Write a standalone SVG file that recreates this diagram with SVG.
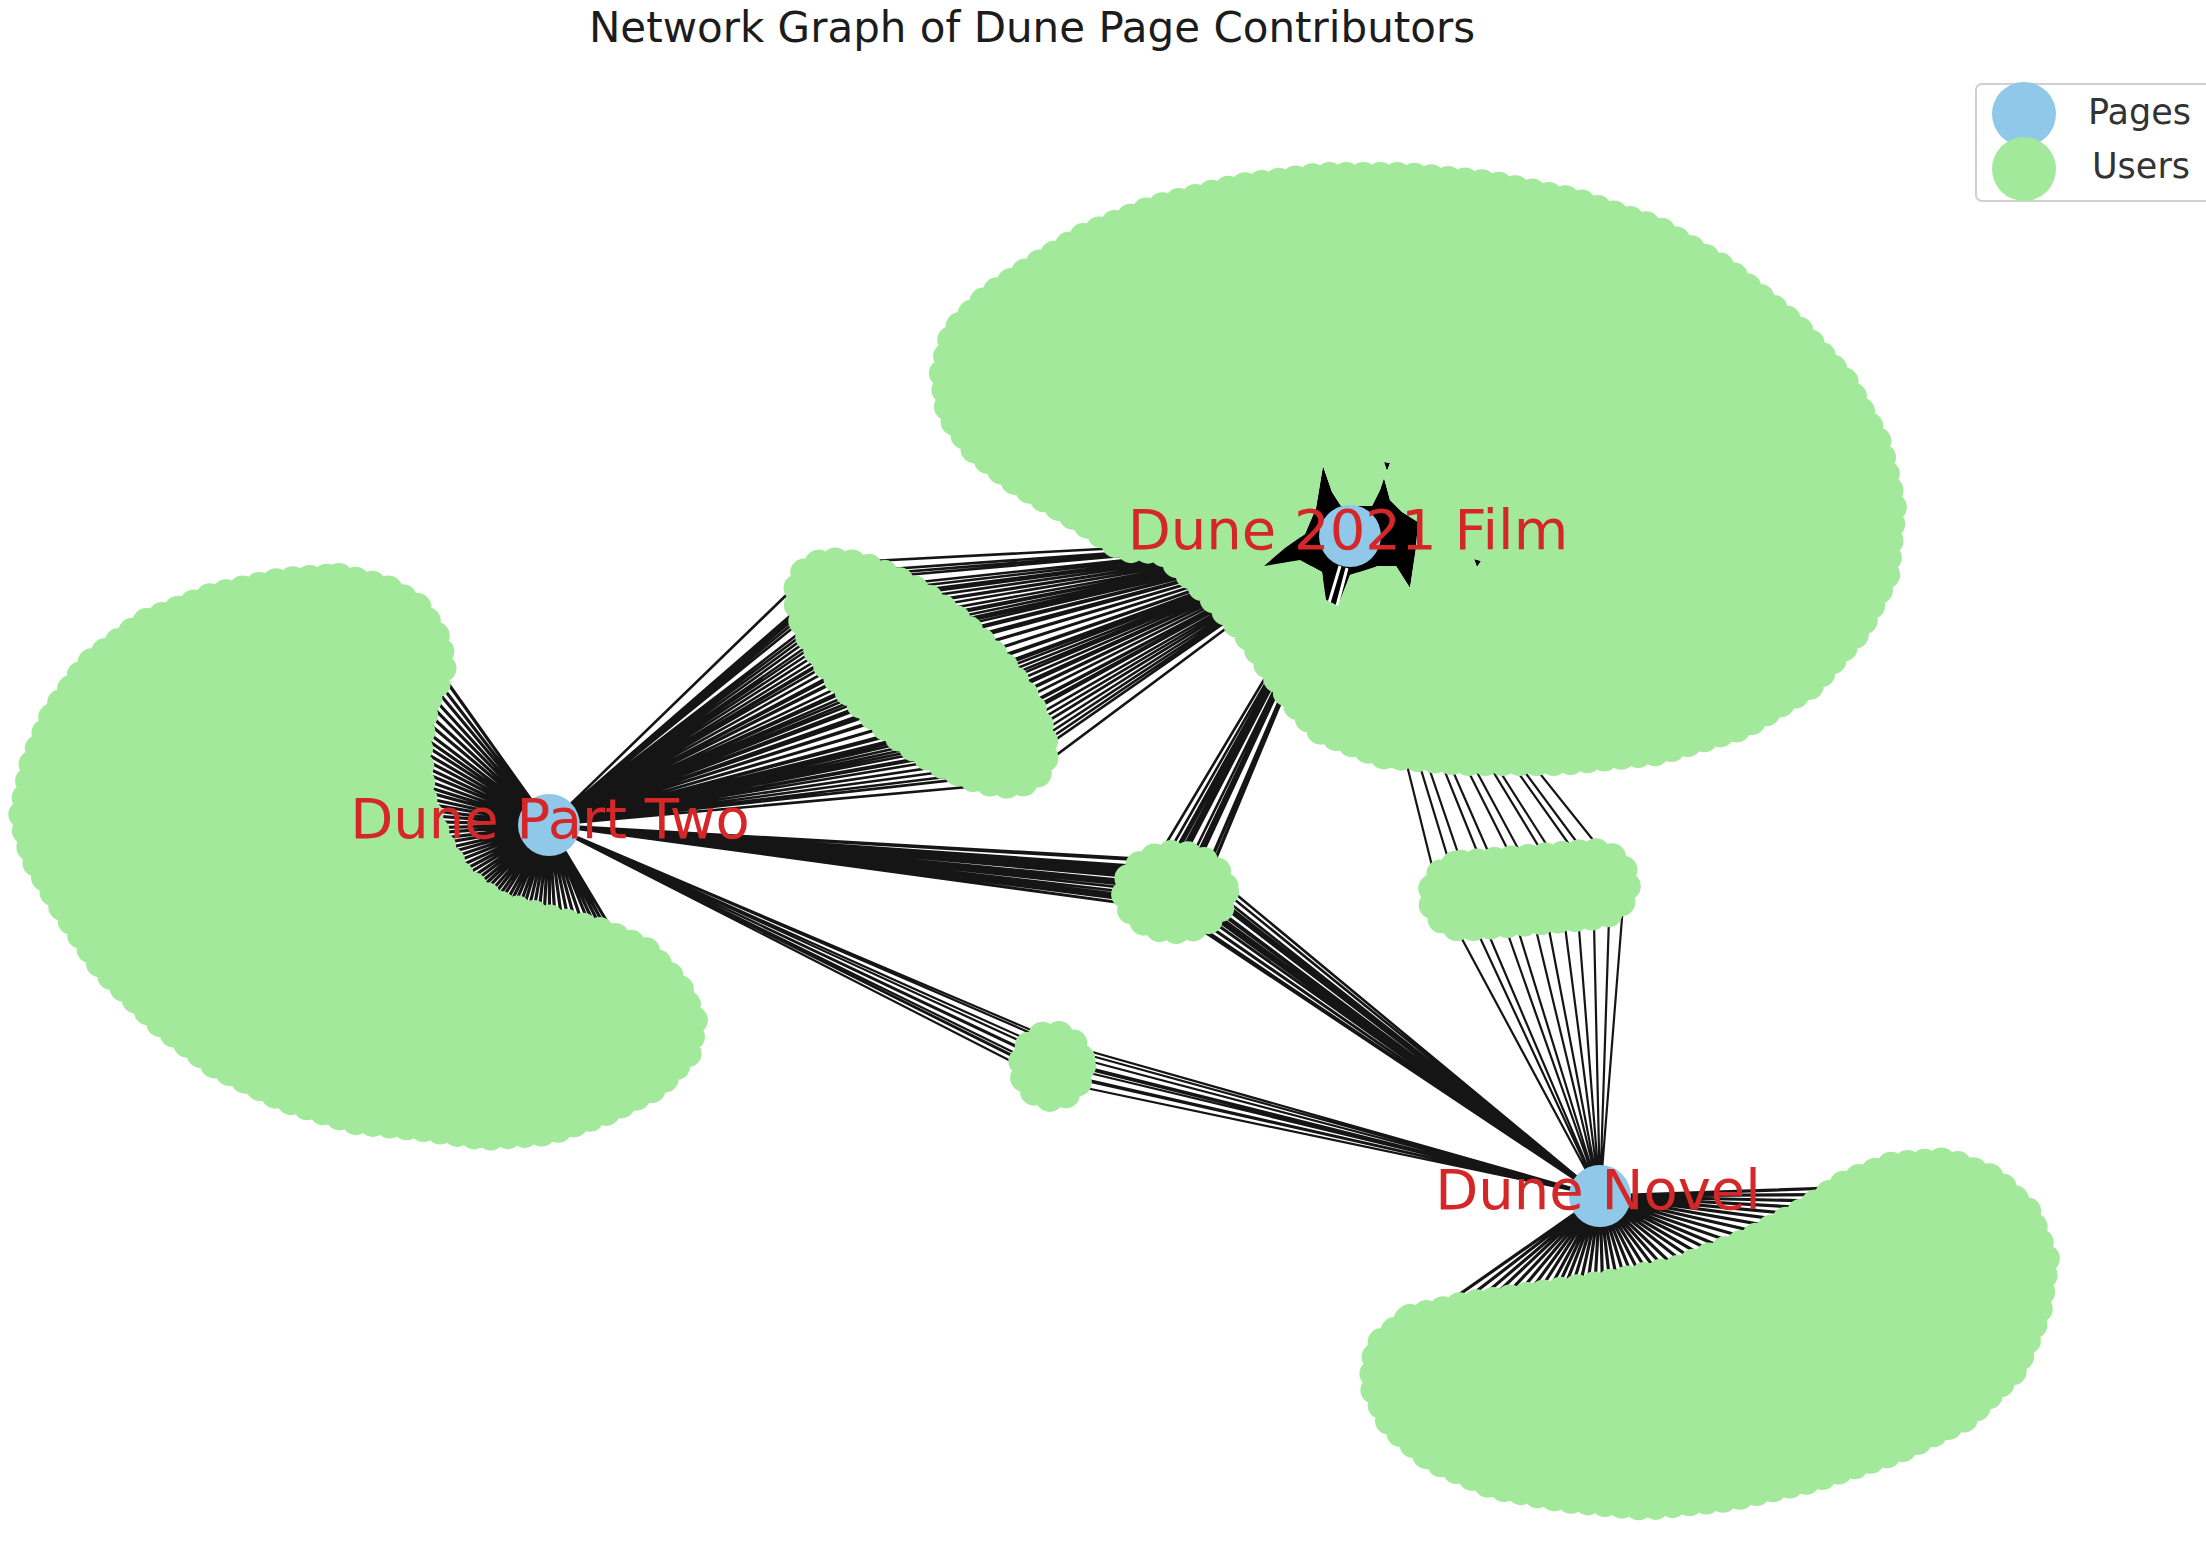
<svg xmlns="http://www.w3.org/2000/svg" width="2206" height="1554" viewBox="0 0 2206 1554">
<style>
.e{fill:none;stroke:#151515;stroke-width:2.2;stroke-linecap:round}
.fan{stroke-width:3.2}
.band{stroke-width:2.6}
.user{fill:#a3e99b;stroke:#a3e99b;stroke-width:28;stroke-linecap:round;stroke-linejoin:round;stroke-dasharray:0 17}
.page{fill:#8fc8e8}
.lbl{font-family:"DejaVu Sans","Liberation Sans",sans-serif;font-size:56px;fill:#d62728;text-anchor:middle}
.title{font-family:"DejaVu Sans","Liberation Sans",sans-serif;font-size:42px;fill:#1c1c1c;text-anchor:middle}
.lg{font-family:"DejaVu Sans","Liberation Sans",sans-serif;font-size:35px;fill:#333}
</style>
<defs>
<path id="starShape" d="M1323,466 L1332,492 L1341,506 L1372,506 L1380,490 L1384,478 L1390,500 L1402,512 L1418,522 L1416,548 L1410,588 L1396,566 L1378,566 L1350,575 L1338,606 L1326,600 L1322,572 L1300,560 L1264,566 L1285,548 L1305,534 L1316,508 Z M1384,462 l6,1 l-3,8 Z M1474,559 l7,2 l-4,6 Z"/>
<mask id="filmHole" maskUnits="userSpaceOnUse" x="0" y="0" width="2206" height="1554">
<rect x="0" y="0" width="2206" height="1554" fill="#fff"/>
<use href="#starShape" fill="#000"/>
</mask>
</defs>
<rect width="2206" height="1554" fill="#fff"/>
<text class="title" x="1032" y="42">Network Graph of Dune Page Contributors</text>

<g id="edges">
<path id="e-parttwo-fan" class="e fan" d="M549 825L410 630M549 825L406 640M549 825L403 650M549 825L399 660M549 825L396 670M549 825L392 680M549 825L389 690M549 825L385 700M549 825L383 709M549 825L381 717M549 825L379 726M549 825L376 734M549 825L374 743M549 825L372 751M549 825L370 760M549 825L370 769M549 825L371 777M549 825L371 786M549 825L371 794M549 825L371 803M549 825L372 811M549 825L372 820M549 825L374 829M549 825L376 837M549 825L378 846M549 825L379 854M549 825L381 863M549 825L383 871M549 825L385 880M549 825L389 888M549 825L393 897M549 825L398 905M549 825L402 913M549 825L406 922M549 825L410 930M549 825L417 936M549 825L423 942M549 825L430 947M549 825L437 953M549 825L443 959M549 825L450 965M549 825L458 968M549 825L467 972M549 825L475 975M549 825L483 978M549 825L492 982M549 825L500 985M549 825L510 987M549 825L520 988M549 825L530 990M549 825L540 992M549 825L550 993M549 825L560 995M549 825L572 996M549 825L584 997M549 825L596 998M549 825L608 999M549 825L620 1000M549 825L630 1003M549 825L640 1005M549 825L650 1008M549 825L660 1010"/>
<path id="e-parttwo-ell" class="e band" d="M549 825L807 575M549 825L826 592M549 825L845 608M549 825L864 624M549 825L883 640M549 825L902 657M549 825L921 673M549 825L940 689M549 825L959 706M549 825L978 722M549 825L997 738M549 825L1016 755M549 825L1035 771M549 825L800 622M549 825L819 638M549 825L838 654M549 825L857 670M549 825L876 687M549 825L895 703M549 825L914 719M549 825L933 736M549 825L952 752M549 825L971 768M549 825L990 785M549 825L852 562M549 825L871 578M549 825L890 594M549 825L909 610M549 825L928 627M549 825L947 643M549 825L966 659M549 825L985 676M549 825L1004 692M549 825L1023 708M549 825L1042 725M549 825L813 607M549 825L832 623M549 825L851 639M549 825L870 655M549 825L889 672M549 825L908 688M549 825L927 704M549 825L946 721M549 825L965 737M549 825L984 753M549 825L1003 770M549 825L839 577M549 825L858 593M549 825L877 609M549 825L896 625M549 825L915 642M549 825L934 658M549 825L953 674M549 825L972 691M549 825L991 707M549 825L1010 723M549 825L1029 740"/>
<path id="e-film-ell" class="e band" d="M1350 536L807 575M1350 536L826 592M1350 536L845 608M1350 536L864 624M1350 536L883 640M1350 536L902 657M1350 536L921 673M1350 536L940 689M1350 536L959 706M1350 536L978 722M1350 536L997 738M1350 536L1016 755M1350 536L1035 771M1350 536L800 622M1350 536L819 638M1350 536L838 654M1350 536L857 670M1350 536L876 687M1350 536L895 703M1350 536L914 719M1350 536L933 736M1350 536L952 752M1350 536L971 768M1350 536L990 785M1350 536L852 562M1350 536L871 578M1350 536L890 594M1350 536L909 610M1350 536L928 627M1350 536L947 643M1350 536L966 659M1350 536L985 676M1350 536L1004 692M1350 536L1023 708M1350 536L1042 725M1350 536L813 607M1350 536L832 623M1350 536L851 639M1350 536L870 655M1350 536L889 672M1350 536L908 688M1350 536L927 704M1350 536L946 721M1350 536L965 737M1350 536L984 753M1350 536L1003 770M1350 536L839 577M1350 536L858 593M1350 536L877 609M1350 536L896 625M1350 536L915 642M1350 536L934 658M1350 536L953 674M1350 536L972 691M1350 536L991 707M1350 536L1010 723M1350 536L1029 740"/>
<path id="e-m1" class="e band" d="M549 825L1160 878M549 825L1176 870M549 825L1193 874M549 825L1203 888M549 825L1193 903M549 825L1175 910M549 825L1158 901M549 825L1167 889M549 825L1184 886M549 825L1179 898M549 825L1197 862M549 825L1152 867M549 825L1166 880M549 825L1186 878M549 825L1200 896M549 825L1168 905M549 825L1150 885M549 825L1188 912M549 825L1208 878M549 825L1172 862M1350 536L1160 878M1350 536L1176 870M1350 536L1193 874M1350 536L1203 888M1350 536L1193 903M1350 536L1175 910M1350 536L1158 901M1350 536L1167 889M1350 536L1184 886M1350 536L1179 898M1350 536L1197 862M1350 536L1152 867M1350 536L1166 880M1350 536L1186 878M1350 536L1200 896M1350 536L1168 905M1350 536L1150 885M1350 536L1188 912M1350 536L1208 878M1350 536L1172 862M1600 1196L1160 878M1600 1196L1176 870M1600 1196L1193 874M1600 1196L1203 888M1600 1196L1193 903M1600 1196L1175 910M1600 1196L1158 901M1600 1196L1167 889M1600 1196L1184 886M1600 1196L1179 898M1600 1196L1197 862M1600 1196L1152 867M1600 1196L1166 880M1600 1196L1186 878M1600 1196L1200 896M1600 1196L1168 905M1600 1196L1150 885M1600 1196L1188 912M1600 1196L1208 878M1600 1196L1172 862"/>
<path id="e-m2" class="e" d="M1350 536L1440 898M1350 536L1457 888M1350 536L1474 900M1350 536L1491 886M1350 536L1508 897M1350 536L1525 884M1350 536L1542 893M1350 536L1559 880M1350 536L1576 891M1350 536L1593 878M1350 536L1610 887M1350 536L1625 880M1600 1196L1440 898M1600 1196L1457 888M1600 1196L1474 900M1600 1196L1491 886M1600 1196L1508 897M1600 1196L1525 884M1600 1196L1542 893M1600 1196L1559 880M1600 1196L1576 891M1600 1196L1593 878M1600 1196L1610 887M1600 1196L1625 880"/>
<path id="e-m3" class="e" d="M549 825L1042 1058M549 825L1055 1052M549 825L1066 1062M549 825L1060 1075M549 825L1046 1072M549 825L1052 1064M549 825L1036 1068M549 825L1070 1050M549 825L1048 1080M549 825L1064 1044M1600 1196L1042 1058M1600 1196L1055 1052M1600 1196L1066 1062M1600 1196L1060 1075M1600 1196L1046 1072M1600 1196L1052 1064M1600 1196L1036 1068M1600 1196L1070 1050M1600 1196L1048 1080M1600 1196L1064 1044"/>
<path id="e-novel-fan" class="e fan" d="M1600 1196L1380 1350M1600 1196L1395 1354M1600 1196L1410 1358M1600 1196L1425 1361M1600 1196L1440 1365M1600 1196L1455 1369M1600 1196L1470 1373M1600 1196L1485 1376M1600 1196L1500 1380M1600 1196L1515 1379M1600 1196L1530 1377M1600 1196L1545 1376M1600 1196L1560 1375M1600 1196L1575 1374M1600 1196L1590 1373M1600 1196L1605 1371M1600 1196L1620 1370M1600 1196L1634 1364M1600 1196L1649 1359M1600 1196L1663 1353M1600 1196L1677 1347M1600 1196L1691 1341M1600 1196L1706 1336M1600 1196L1720 1330M1600 1196L1733 1322M1600 1196L1747 1313M1600 1196L1760 1305M1600 1196L1773 1297M1600 1196L1787 1288M1600 1196L1800 1280M1600 1196L1812 1270M1600 1196L1824 1260M1600 1196L1836 1250M1600 1196L1848 1240M1600 1196L1860 1230M1600 1196L1872 1221M1600 1196L1884 1212M1600 1196L1896 1203M1600 1196L1908 1194M1600 1196L1920 1185"/>
<use id="e-film-star" href="#starShape" fill="#000"/>
<path d="M1340 566L1329 603M1347 568L1337 606" stroke="#fff" stroke-width="3" fill="none"/>
</g>

<g id="users-film" mask="url(#filmHole)">
<path class="user" d="M943,373 L953,333 L987,298 L1029,270 L1085,236 L1155,208 L1239,187 L1322,176 L1407,176 L1490,184 L1574,201 L1657,229 L1726,270 L1796,327 L1845,382 L1879,444 L1893,506 L1886,576 L1859,630 L1811,685 L1742,727 L1658,752 L1562,762 L1463,762 L1381,755 L1319,730 L1292,700 L1271,670 L1250,638 L1228,614 L1193,578 L1160,550 L1123,549 L1088,525 L1052,503 L1016,482 L975,450 L949,414 Z"/>
</g>
<g id="users-parttwo">
<path class="user" d="M339,577 L386,588 L419,608 L439,641 L443,672 L426,703 L419,746 L422,795 L440,843 L461,877 L497,904 L548,918 L604,932 L645,950 L678,985 L694,1020 L688,1053 L658,1086 L604,1113 L549,1132 L485,1137 L423,1128 L354,1121 L284,1099 L215,1065 L160,1023 L103,968 L61,905 L33,857 L22,816 L33,762 L54,713 L88,665 L144,623 L213,596 L282,581 Z"/>
</g>
<g id="users-novel">
<path class="user" d="M1410,1318 L1465,1305 L1534,1295 L1604,1284 L1675,1270 L1746,1242 L1804,1211 L1846,1183 L1893,1165 L1947,1161 L1994,1179 L2028,1212 L2046,1259 L2038,1314 L2015,1369 L1967,1417 L1897,1451 L1814,1479 L1730,1498 L1646,1507 L1563,1499 L1493,1486 L1431,1459 L1391,1425 L1372,1385 L1377,1346 Z"/>
</g>
<g id="users-parttwo-film">
<ellipse class="user" cx="921" cy="673" rx="154" ry="64" transform="rotate(40.7 921 673)"/>
</g>
<g id="users-all-three">
<ellipse class="user" cx="1175" cy="892" rx="50" ry="38"/>
</g>
<g id="users-film-novel">
<rect class="user" x="1431" y="858" width="196" height="64" rx="32" transform="rotate(-5 1529 889)"/>
</g>
<g id="users-parttwo-novel">
<ellipse class="user" cx="1052" cy="1066" rx="30" ry="32"/>
</g>

<g id="page-film">
<circle class="page" cx="1350" cy="536" r="31"/>
<text class="lbl" x="1348" y="549">Dune 2021 Film</text>
</g>
<g id="page-parttwo">
<circle class="page" cx="549" cy="825" r="31"/>
<text class="lbl" x="550" y="838">Dune Part Two</text>
</g>
<g id="page-novel">
<circle class="page" cx="1600" cy="1196" r="31"/>
<text class="lbl" x="1598" y="1209">Dune Novel</text>
</g>

<g id="legend">
<rect x="1976" y="84" width="260" height="117" rx="6" fill="#fff" stroke="#d0d0d0" stroke-width="2"/>
<circle cx="2024" cy="114" r="32" fill="#8fc8e8"/>
<circle cx="2024" cy="169" r="32" fill="#a3e99b"/>
<text class="lg" x="2088" y="124">Pages</text>
<text class="lg" x="2092" y="178">Users</text>
</g>
</svg>
